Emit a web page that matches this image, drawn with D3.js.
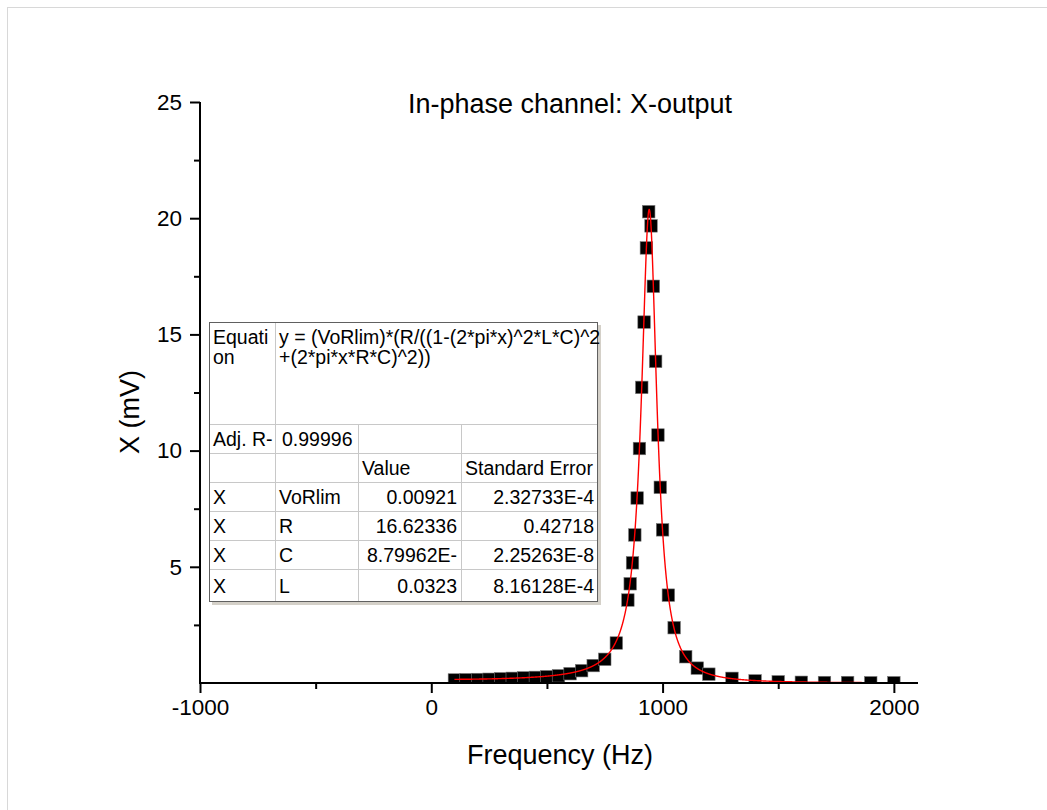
<!DOCTYPE html>
<html>
<head>
<meta charset="utf-8">
<script src="https://cdn.jsdelivr.net/npm/d3@7"></script>
<style>
  html, body { margin: 0; padding: 0; background: #fff; }
  svg { display: block; font-family: "Liberation Sans", Arial, sans-serif; }
</style>
</head>
<body>
<svg id="chart" width="1047" height="810"></svg>
<script>
// ---------- data ----------
const frequencies = [100,150,200,250,300,350,400,450,500,550,600,650,700,750,800,
  850,860,870,880,890,900,910,920,930,940,950,960,970,980,990,1000,
  1025,1050,1100,1150,1200,1300,1400,1500,1600,1700,1800,1900,2000];
const xOutput = [0.13,0.14,0.15,0.16,0.18,0.20,0.22,0.24,0.27,0.31,0.40,0.53,0.75,1.02,1.72,
  3.57,4.27,5.17,6.37,7.96,10.09,12.72,15.53,18.72,20.28,19.67,17.07,13.84,10.67,8.42,6.59,
  3.78,2.38,1.13,0.64,0.38,0.20,0.09,0.05,0.03,0.02,0.02,0.01,0.01];

// fitted parameters as shown in the chart's table
const fitNames = ["VoRlim", "R", "C", "L"];
const fitValues = [0.00921, 16.62336, 8.79962e-7, 0.0323];
const fitValueLabels = ["0.00921", "16.62336", "8.79962E-", "0.0323"];
const fitErrorLabels = ["2.32733E-4", "0.42718", "2.25263E-8", "8.16128E-4"];
const fitRange = [100, 2000];

const xTicks = [-1000, 0, 1000, 2000];
const xTickLabels = ["-1000", "0", "1000", "2000"];
const xMinorTicks = [-500, 500, 1500];
const yTicks = [5, 10, 15, 20, 25];
const yMinorTicks = [2.5, 7.5, 12.5, 17.5, 22.5];

const titleText = "In-phase channel: X-output";
const xLabel = "Frequency (Hz)";
const yLabel = "X (mV)";

// ---------- layout ----------
const svg = d3.select("#chart");
const font = '"Liberation Sans", Arial, sans-serif';

// faint frame
svg.append("rect").attr("x", 7.5).attr("y", 7.5).attr("width", 1100).attr("height", 1000)
  .attr("fill", "none").attr("stroke", "#d8d8d8").attr("stroke-width", 1);

const x = d3.scaleLinear().domain([-1000, 2100]).range([200, 917]);
const y = d3.scaleLinear().domain([0, 25]).range([683, 102]);

// clip to plot area
svg.append("defs").append("clipPath").attr("id", "plotClip")
  .append("rect").attr("x", 200).attr("y", 90).attr("width", 730).attr("height", 593);

const plot = svg.append("g").attr("clip-path", "url(#plotClip)");

// markers
const ms = 12.5;
plot.append("g").selectAll("rect").data(frequencies).join("rect")
  .attr("x", (d) => x(d) - ms / 2)
  .attr("y", (d, i) => y(xOutput[i]) - ms / 2)
  .attr("width", ms).attr("height", ms)
  .attr("fill", "#000").attr("stroke", "#777").attr("stroke-width", 0.6);

// fitted curve from the model shown in the table
const [V, R, C, L] = fitValues;
function model(f) {
  const w = 2 * Math.PI * f;
  const a = 1 - w * w * L * C;
  const b = w * R * C;
  return V * (R / (a * a + b * b));
}
const curve = d3.range(fitRange[0], fitRange[1] + 0.5, 0.5).map(f => [f, model(f)]);
plot.append("path").datum(curve)
  .attr("d", d3.line().x(d => x(d[0])).y(d => y(d[1])))
  .attr("fill", "none").attr("stroke", "#ff0000").attr("stroke-width", 1.4);

// axes
const tickFont = 22.5;
const xAxis = d3.axisBottom(x).tickValues(xTicks).tickSize(10).tickPadding(6)
  .tickFormat((d, i) => xTickLabels[i]);
const gx = svg.append("g").attr("transform", "translate(0,683)").call(xAxis);
gx.select(".domain").attr("d", "M200,0H918").attr("stroke-width", 2);
gx.selectAll(".tick line").attr("stroke-width", 2);
gx.selectAll(".tick text").attr("font-size", tickFont).attr("font-family", font).attr("fill", "#000");
svg.append("g").attr("transform", "translate(0,683)")
  .call(d3.axisBottom(x).tickValues(xMinorTicks).tickSize(6).tickFormat(""))
  .call(g => g.select(".domain").remove())
  .selectAll("line").attr("stroke-width", 2);

const yAxis = d3.axisLeft(y).tickValues(yTicks).tickSize(10).tickPadding(8).tickFormat(d3.format("d"));
const gy = svg.append("g").attr("transform", "translate(200,0)").call(yAxis);
gy.select(".domain").attr("d", "M0,684V102").attr("stroke-width", 2);
gy.selectAll(".tick line").attr("stroke-width", 2);
gy.selectAll(".tick text").attr("font-size", tickFont).attr("font-family", font).attr("fill", "#000");
svg.append("g").attr("transform", "translate(200,0)")
  .call(d3.axisLeft(y).tickValues(yMinorTicks).tickSize(6).tickFormat(""))
  .call(g => g.select(".domain").remove())
  .selectAll("line").attr("stroke-width", 2);

// titles
svg.append("text").attr("x", 570).attr("y", 113).attr("text-anchor", "middle")
  .attr("font-size", 27).attr("font-family", font).text(titleText);
svg.append("text").attr("x", 560).attr("y", 764).attr("text-anchor", "middle")
  .attr("font-size", 27).attr("font-family", font).text(xLabel);
svg.append("text").attr("transform", "translate(139,412) rotate(-90)").attr("text-anchor", "middle")
  .attr("font-size", 27).attr("font-family", font).text(yLabel);

// ---------- fit table ----------
const tb = svg.append("g");
const colX = [209, 275, 358, 461, 598];
const rowY = [322, 424, 453, 482, 511, 540, 569, 602];
const tl = colX[0], tr = colX[4], tt = rowY[0], tbm = rowY[rowY.length - 1];
// shadow
tb.append("rect").attr("x", tl + 3).attr("y", tt + 3).attr("width", tr - tl).attr("height", tbm - tt)
  .attr("fill", "#d4d0c8");
tb.append("rect").attr("x", tl).attr("y", tt).attr("width", tr - tl).attr("height", tbm - tt)
  .attr("fill", "#fff");
const grid = "#c8c8c8";
rowY.slice(1, -1).forEach(yy => {
  tb.append("line").attr("x1", tl).attr("x2", tr).attr("y1", yy + 0.5).attr("y2", yy + 0.5)
    .attr("stroke", grid).attr("stroke-width", 1);
});
tb.append("line").attr("x1", colX[1] + 0.5).attr("x2", colX[1] + 0.5).attr("y1", tt).attr("y2", tbm)
  .attr("stroke", grid);
[colX[2], colX[3]].forEach(cx => {
  tb.append("line").attr("x1", cx + 0.5).attr("x2", cx + 0.5).attr("y1", rowY[1]).attr("y2", tbm)
    .attr("stroke", grid);
});
tb.append("rect").attr("x", tl + 0.5).attr("y", tt + 0.5).attr("width", tr - tl - 1).attr("height", tbm - tt - 1)
  .attr("fill", "none").attr("stroke", "#606060").attr("stroke-width", 1);

const fs = 19.5;
function cell(txt, xx, yy, anchor) {
  tb.append("text").attr("x", xx).attr("y", yy).attr("font-size", fs).attr("font-family", font)
    .attr("text-anchor", anchor || "start").attr("fill", "#000").text(txt);
}
const base = (r) => (rowY[r] + rowY[r + 1]) / 2 + 7;
cell("Equati", colX[0] + 4, tt + 22);
cell("on", colX[0] + 4, tt + 42);
cell("y = (VoRlim)*(R/((1-(2*pi*x)^2*L*C)^2", colX[1] + 4, tt + 22);
cell("+(2*pi*x*R*C)^2))", colX[1] + 4, tt + 42);
cell("Adj. R-", colX[0] + 4, base(1));
cell("0.99996", colX[1] + 7, base(1));
cell("Value", colX[2] + 4, base(2));
cell("Standard Error", colX[3] + 4, base(2));
fitNames.forEach((n, i) => {
  const r = 3 + i;
  cell("X", colX[0] + 4, base(r));
  cell(n, colX[1] + 4, base(r));
  cell(fitValueLabels[i], colX[3] - 4, base(r), "end");
  cell(fitErrorLabels[i], colX[4] - 4, base(r), "end");
});
</script>
</body>
</html>
